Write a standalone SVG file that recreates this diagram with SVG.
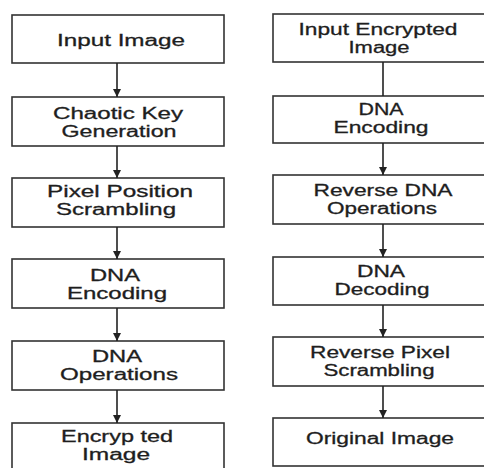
<svg xmlns="http://www.w3.org/2000/svg" width="484" height="468" viewBox="0 0 484 468">
<style>
.box{fill:#fff;stroke:#333;stroke-width:1.6}
.t{font-family:"Liberation Sans",Arial,sans-serif;font-size:16px;fill:#1e1e1e;stroke:#1e1e1e;stroke-width:0.3;text-anchor:middle}
.c{stroke:#222;stroke-width:1.6;fill:none}
</style>
<defs>
<marker id="ah" viewBox="0 0 10 10" refX="10" refY="5" markerWidth="8" markerHeight="8" markerUnits="userSpaceOnUse" orient="auto">
<path d="M0,0 L10,5 L0,10 z" fill="#222"/>
</marker>
</defs>
<rect width="484" height="468" fill="#fff"/>
<g id="L1"><rect class="box" x="12" y="15" width="212" height="48"/><text class="t" x="121" y="46" textLength="128" lengthAdjust="spacingAndGlyphs">Input Image</text></g>
<g id="L2"><rect class="box" x="12" y="97" width="212" height="49"/><text class="t" x="118" y="119" textLength="130" lengthAdjust="spacingAndGlyphs">Chaotic Key</text><text class="t" x="119" y="137" textLength="115" lengthAdjust="spacingAndGlyphs">Generation</text></g>
<g id="L3"><rect class="box" x="12" y="178" width="212" height="49"/><text class="t" x="120" y="197" textLength="146" lengthAdjust="spacingAndGlyphs">Pixel Position</text><text class="t" x="116" y="215" textLength="120" lengthAdjust="spacingAndGlyphs">Scrambling</text></g>
<g id="L4"><rect class="box" x="12" y="259" width="212" height="49"/><text class="t" x="115" y="281" textLength="50" lengthAdjust="spacingAndGlyphs">DNA</text><text class="t" x="117" y="299" textLength="100" lengthAdjust="spacingAndGlyphs">Encoding</text></g>
<g id="L5"><rect class="box" x="12" y="341" width="212" height="49"/><text class="t" x="117" y="362" textLength="50" lengthAdjust="spacingAndGlyphs">DNA</text><text class="t" x="119" y="380" textLength="118" lengthAdjust="spacingAndGlyphs">Operations</text></g>
<g id="L6"><rect class="box" x="12" y="423" width="212" height="60"/><text class="t" x="117" y="442" textLength="112" lengthAdjust="spacingAndGlyphs">Encryp ted</text><text class="t" x="116" y="460" textLength="68" lengthAdjust="spacingAndGlyphs">Image</text></g>
<g id="R1"><rect class="box" x="273" y="14" width="220" height="48"/><text class="t" x="378" y="35" textLength="159" lengthAdjust="spacingAndGlyphs">Input Encrypted</text><text class="t" x="379" y="53" textLength="61" lengthAdjust="spacingAndGlyphs">Image</text></g>
<g id="R2"><rect class="box" x="273" y="96" width="220" height="47"/><text class="t" x="381" y="115" textLength="45" lengthAdjust="spacingAndGlyphs">DNA</text><text class="t" x="381" y="133" textLength="95" lengthAdjust="spacingAndGlyphs">Encoding</text></g>
<g id="R3"><rect class="box" x="273" y="175" width="220" height="49"/><text class="t" x="383" y="196" textLength="139" lengthAdjust="spacingAndGlyphs">Reverse DNA</text><text class="t" x="382" y="214" textLength="110" lengthAdjust="spacingAndGlyphs">Operations</text></g>
<g id="R4"><rect class="box" x="273" y="257" width="220" height="48"/><text class="t" x="381" y="277" textLength="48" lengthAdjust="spacingAndGlyphs">DNA</text><text class="t" x="382" y="295" textLength="95" lengthAdjust="spacingAndGlyphs">Decoding</text></g>
<g id="R5"><rect class="box" x="273" y="337" width="220" height="49"/><text class="t" x="380" y="358" textLength="140" lengthAdjust="spacingAndGlyphs">Reverse Pixel</text><text class="t" x="379" y="376" textLength="111" lengthAdjust="spacingAndGlyphs">Scrambling</text></g>
<g id="R6"><rect class="box" x="273" y="418" width="220" height="48"/><text class="t" x="380" y="444" textLength="148" lengthAdjust="spacingAndGlyphs">Original Image</text></g>
<g id="connectors">
<line class="c" x1="117" y1="63" x2="117" y2="97" marker-end="url(#ah)"/>
<line class="c" x1="117" y1="146" x2="117" y2="178" marker-end="url(#ah)"/>
<line class="c" x1="117" y1="227" x2="117" y2="259" marker-end="url(#ah)"/>
<line class="c" x1="117" y1="308" x2="117" y2="341" marker-end="url(#ah)"/>
<line class="c" x1="117" y1="390" x2="117" y2="423" marker-end="url(#ah)"/>
<line class="c" x1="383" y1="62" x2="383" y2="96"/>
<line class="c" x1="383" y1="143" x2="383" y2="175" marker-end="url(#ah)"/>
<line class="c" x1="383" y1="224" x2="383" y2="257" marker-end="url(#ah)"/>
<line class="c" x1="383" y1="305" x2="383" y2="337" marker-end="url(#ah)"/>
<line class="c" x1="383" y1="386" x2="383" y2="418" marker-end="url(#ah)"/>
</g>
</svg>
